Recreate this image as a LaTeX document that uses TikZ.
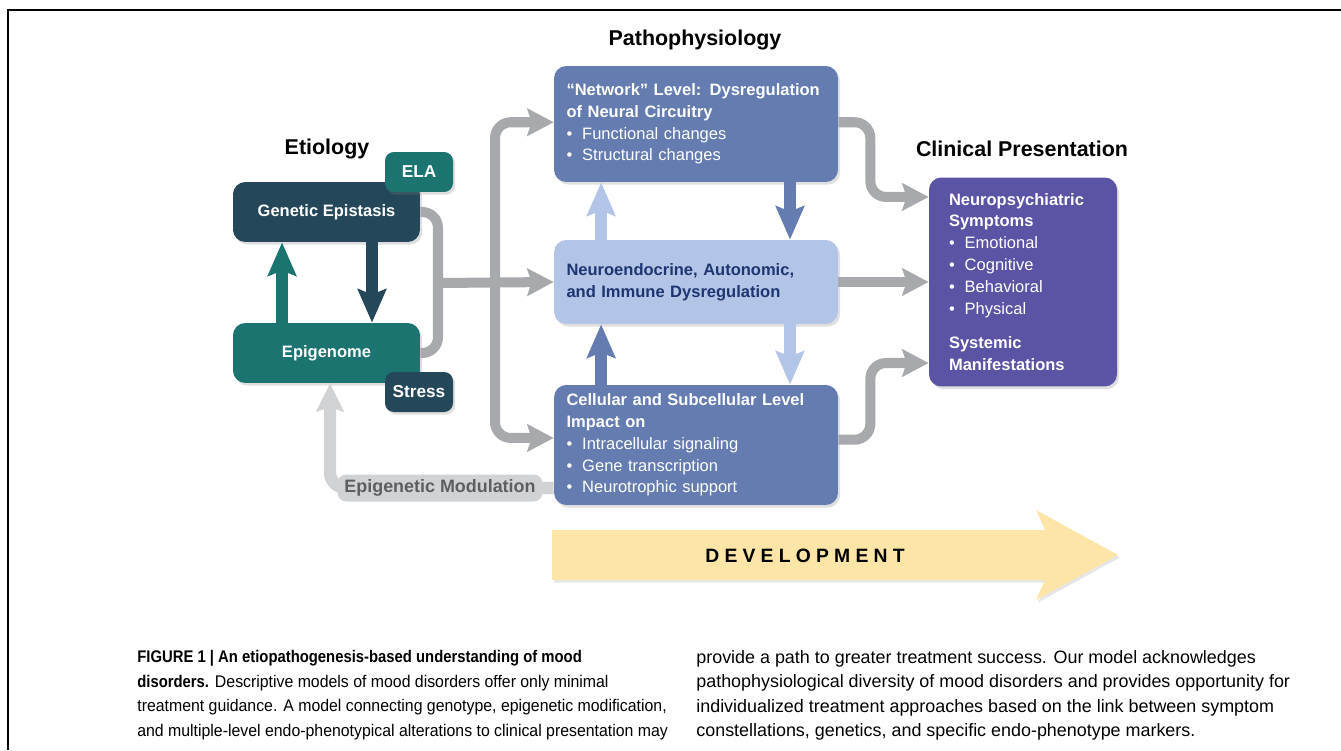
\documentclass[tikz,border=0pt]{standalone}
\usepackage{fontspec}
\setmainfont{Liberation Sans}
\newfontfamily\devfont[LetterSpace=27]{Liberation Sans}
\newfontfamily\capfont[FakeStretch=0.94,BoldFeatures={FakeStretch=0.88}]{Liberation Sans}
\usetikzlibrary{arrows.meta,shadows,positioning}
\definecolor{etdark}{HTML}{24485A}
\definecolor{etteal}{HTML}{1C7470}
\definecolor{pathmid}{HTML}{647CAF}
\definecolor{pathlight}{HTML}{B3C5E6}
\definecolor{pathnavy}{HTML}{1D3570}
\definecolor{clinpurple}{HTML}{5B53A4}
\definecolor{linkgray}{HTML}{A7A9AC}
\definecolor{modgray}{HTML}{D0D2D4}
\definecolor{modtext}{HTML}{5D5E60}
\definecolor{devyellow}{HTML}{FDE5A8}
\newcommand{\boxfont}{\fontsize{9.4}{12.4}\selectfont}
\newcommand{\itm}[1]{{\mdseries\textbullet\hspace{0.6em}#1}}
\begin{document}
\begin{tikzpicture}[x=0.02cm,y=-0.02cm,
    box/.style={rounded corners=7pt,inner sep=0pt,text=white,font=\boxfont\bfseries,
      drop shadow={shadow xshift=1.2pt,shadow yshift=-1.5pt,opacity=0.25}},
    etbox/.style={box,minimum width=3.74cm,minimum height=1.2cm},
    tagbox/.style={box,rounded corners=5pt,minimum width=1.36cm,minimum height=0.8cm,
      font=\fontsize{9.8}{12}\selectfont\bfseries},
    pathbox/.style={box,minimum width=5.68cm,text width=5.18cm,inner xsep=7.1pt,align=left},
    clinbox/.style={box,minimum width=3.76cm,text width=2.96cm,inner xsep=11.4pt,align=left},
    head/.style={font=\fontsize{12.2}{14}\selectfont\bfseries},
    fat/.style={line width=6.6pt,-{Stealth[length=19pt,width=16pt,inset=3pt]}},
    link/.style={linkgray,line width=5.7pt,rounded corners=9pt},
    linkarrow/.style={link,-{Stealth[length=15pt,width=15.5pt,inset=2.5pt]}},
    modarrow/.style={modgray,line width=7pt,rounded corners=9pt,-{Stealth[length=16pt,width=15.5pt,inset=2.5pt]}},
    modlabel/.style={fill=modgray,rounded corners=5pt,inner sep=0pt,minimum width=4.1cm,
      minimum height=0.54cm,text=modtext,font=\fontsize{10.2}{12}\selectfont\bfseries},
    caption/.style={anchor=north west,inner sep=0pt,align=left}]
  \useasboundingbox(0,0)rectangle(1341,750);
  \draw[line width=1.1pt](8,750)--(8,10)--(1341,10);%枠
  %見出し
  \node[head](hpath)at(695,40){Pathophysiology};
  \node[head](hetio)at(327,149){Etiology};
  \node[head](hclin)at(1022,149){Clinical Presentation};
  %病因
  \node[etbox,fill=etdark](gen)at(326.5,212){Genetic Epistasis};
  \node[tagbox,fill=etteal](ela)at(419,172){ELA};
  \node[etbox,fill=etteal](epi)at(326.5,353){Epigenome};
  \node[tagbox,fill=etdark](stress)at(419,392){Stress};
  \draw[fat,etteal]([xshift=-25.3pt]epi.north)--([xshift=-25.3pt]gen.south);
  \draw[fat,etdark]([xshift=25.9pt]gen.south)--([xshift=25.9pt]epi.north);
  %病態生理
  \node[pathbox,fill=pathmid,minimum height=2.32cm](net)at(696,124){%
    “Network” Level: Dysregulation\\of Neural Circuitry\\
    \itm{Functional changes}\\\itm{Structural changes}};
  \node[pathbox,fill=pathlight,text=pathnavy,minimum height=1.68cm](neuro)at(696,282){%
    Neuroendocrine, Autonomic,\\and Immune Dysregulation};
  \node[pathbox,fill=pathmid,minimum height=2.4cm](cell)at(696,445){%
    Cellular and Subcellular Level\\Impact on\\
    \itm{Intracellular signaling}\\\itm{Gene transcription}\\\itm{Neurotrophic support}};
  \draw[fat,pathlight]([xshift=-54pt]neuro.north)--([xshift=-54pt]net.south);
  \draw[fat,pathmid]([xshift=53.5pt]net.south)--([xshift=53.5pt]neuro.north);
  \draw[fat,pathmid]([xshift=-54pt]cell.north)--([xshift=-54pt]neuro.south);
  \draw[fat,pathlight]([xshift=53.5pt]neuro.south)--([xshift=53.5pt]cell.north);
  %臨床像
  \node[clinbox,fill=clinpurple,minimum height=4.18cm](clin)at(1023,282){%
    Neuropsychiatric\\Symptoms\\
    \itm{Emotional}\\\itm{Cognitive}\\\itm{Behavioral}\\\itm{Physical}\\[7.4pt]
    Systemic\\Manifestations};
  %灰色の矢印
  \coordinate(split)at(438,283);
  \coordinate(hub)at(495,283);
  \draw[link](gen.east)-|(split)|-(epi.east);
  \draw[linkarrow](split)--(neuro.west);
  \draw[linkarrow](hub)|-([yshift=1pt]net.west);
  \draw[linkarrow](hub)|-([yshift=4pt]cell.west);
  \draw[linkarrow]([yshift=1pt]net.east)--++(32,0)|-([yshift=48.4pt]clin.west);
  \draw[linkarrow](neuro.east)--(clin.west);
  \draw[linkarrow]([yshift=3pt]cell.east)--++(32,0)|-([yshift=-46.1pt]clin.west);
  %エピジェネティック修飾
  \draw[modarrow]([yshift=-24.5pt]cell.west)-|([xshift=2pt]epi.south);
  \node[modlabel](mod)at(440,488){Epigenetic Modulation};
  %発達
  \fill[devyellow,drop shadow={shadow xshift=1pt,shadow yshift=-1.5pt,opacity=0.2}]
    (552,530)--(1045,530)--(1036,510)--(1118,555)--(1036,600)--(1045,580)--(552,580)--cycle;
  \node[font=\devfont\bfseries\fontsize{11}{13}\selectfont](dev)at(805,556){DEVELOPMENT};
  %キャプション
  \node[caption,font=\capfont\fontsize{9.6}{13.94}\selectfont](capl)at(137,650){%
    \textbf{FIGURE 1 | An etiopathogenesis-based understanding of mood}\\
    \textbf{disorders.} Descriptive models of mood disorders offer only minimal\\
    treatment guidance. A model connecting genotype, epigenetic modification,\\
    and multiple-level endo-phenotypical alterations to clinical presentation may};
  \node[caption,font=\fontsize{10.2}{13.94}\selectfont](capr)at(696,650){%
    provide a path to greater treatment success. Our model acknowledges\\
    pathophysiological diversity of mood disorders and provides opportunity for\\
    individualized treatment approaches based on the link between symptom\\
    constellations, genetics, and specific endo-phenotype markers.};
\end{tikzpicture}
\end{document}
